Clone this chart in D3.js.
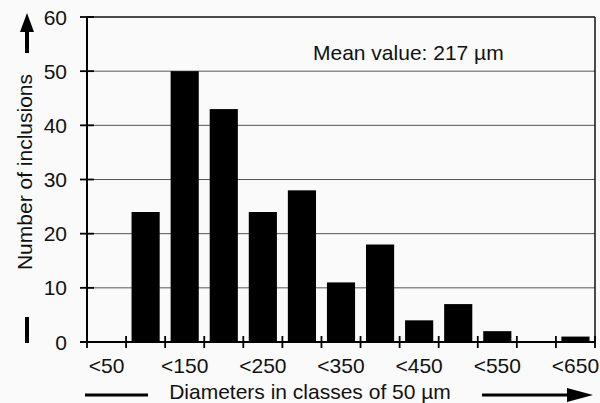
<!DOCTYPE html>
<html>
<head>
<meta charset="utf-8">
<script src="https://cdn.jsdelivr.net/npm/d3@7"></script>
<style>
  body { margin: 0; background: #fafafa; }
  svg { display: block; font-family: Arial, "Liberation Sans", sans-serif; }
  .grid line { stroke: #555; stroke-width: 1; }
</style>
</head>
<body>
<svg id="chart" width="600" height="403"></svg>
<script>
// classes of 50 um
var classes = ["<50", "<100", "<150", "<200", "<250", "<300", "<350",
               "<400", "<450", "<500", "<550", "<600", "<650"];
var counts = [0, 24, 50, 43, 24, 28, 11, 18, 4, 7, 2, 0, 1];
var labelled = ["<50", "<150", "<250", "<350", "<450", "<550", "<650"];
var yTicks = [0, 10, 20, 30, 40, 50, 60];

var svg = d3.select("svg#chart"),
    margin = {top: 17, right: 5, bottom: 61, left: 87},
    width = +svg.attr("width") - margin.left - margin.right,
    height = +svg.attr("height") - margin.top - margin.bottom;

var fs = 21;
var pad = 0.28;
var x = d3.scaleBand().domain(classes).range([0, width])
    .paddingInner(pad).paddingOuter(pad / 2);
var y = d3.scaleLinear().domain([0, 60]).range([height, 0]);

var g = svg.append("g")
    .attr("transform", "translate(" + margin.left + "," + margin.top + ")");

// gridlines
g.append("g").attr("class", "grid")
  .selectAll("line")
  .data(yTicks.filter(function(d) { return d > 0 && d < 60; }))
  .enter().append("line")
    .attr("x1", 0).attr("x2", width)
    .attr("y1", function(d) { return y(d); })
    .attr("y2", function(d) { return y(d); });

// bars
g.selectAll("rect.bar")
  .data(counts)
  .enter().append("rect")
    .attr("class", "bar")
    .attr("x", function(d, i) { return x(classes[i]); })
    .attr("width", x.bandwidth())
    .attr("y", function(d) { return y(d); })
    .attr("height", function(d) { return height - y(d); })
    .attr("fill", "#000");

// frame top + right
g.append("line").attr("x1", 0).attr("x2", width).attr("y1", 0).attr("y2", 0)
  .attr("stroke", "#111").attr("stroke-width", 1.5);
g.append("line").attr("x1", width).attr("x2", width).attr("y1", 0).attr("y2", height)
  .attr("stroke", "#111").attr("stroke-width", 1.5);

// y axis
g.append("line").attr("x1", 0).attr("x2", 0).attr("y1", 0).attr("y2", height)
  .attr("stroke", "#000").attr("stroke-width", 2);
g.selectAll("line.ytick")
  .data(yTicks)
  .enter().append("line")
    .attr("class", "ytick")
    .attr("x1", -7).attr("x2", 7)
    .attr("y1", function(d) { return y(d); })
    .attr("y2", function(d) { return y(d); })
    .attr("stroke", "#000").attr("stroke-width", 1.8);
g.selectAll("text.ylab")
  .data(yTicks)
  .enter().append("text")
    .attr("class", "ylab")
    .attr("x", -20)
    .attr("y", function(d) { return y(d); })
    .attr("dy", "0.36em")
    .attr("text-anchor", "end")
    .attr("font-size", fs)
    .attr("fill", "#111")
    .text(function(d) { return d; });

// x axis
g.append("line").attr("x1", -7).attr("x2", width).attr("y1", height).attr("y2", height)
  .attr("stroke", "#000").attr("stroke-width", 2);
var step = x.step();
var bounds = d3.range(classes.length + 1).map(function(i) {
  return x(classes[0]) - step * pad / 2 + i * step;
});
g.selectAll("line.xtick")
  .data(bounds)
  .enter().append("line")
    .attr("class", "xtick")
    .attr("x1", function(d) { return d; })
    .attr("x2", function(d) { return d; })
    .attr("y1", height - 6).attr("y2", height + 6)
    .attr("stroke", "#000").attr("stroke-width", 1.8);
g.selectAll("text.xlab")
  .data(labelled)
  .enter().append("text")
    .attr("class", "xlab")
    .attr("x", function(d) { return x(d) + x.bandwidth() / 2; })
    .attr("y", height + 31)
    .attr("text-anchor", "middle")
    .attr("font-size", fs)
    .attr("fill", "#111")
    .text(function(d) { return d; });

// annotation
g.append("text")
  .attr("x", 226).attr("y", 43)
  .attr("font-size", fs)
  .attr("fill", "#111")
  .text("Mean value: 217 \u00b5m");

// y title with arrow
svg.append("text")
  .attr("transform", "translate(32,172) rotate(-90)")
  .attr("text-anchor", "middle")
  .attr("font-size", fs)
  .attr("fill", "#111")
  .text("Number of inclusions");
svg.append("line").attr("x1", 27).attr("x2", 27).attr("y1", 53).attr("y2", 30)
  .attr("stroke", "#000").attr("stroke-width", 4);
svg.append("path").attr("d", "M20,32 L27,13 L34,32 Z").attr("fill", "#000");
svg.append("line").attr("x1", 27).attr("x2", 27).attr("y1", 317).attr("y2", 343)
  .attr("stroke", "#000").attr("stroke-width", 4);

// x title with arrow
svg.append("text")
  .attr("x", 310).attr("y", 399)
  .attr("text-anchor", "middle")
  .attr("font-size", fs)
  .attr("fill", "#111")
  .text("Diameters in classes of 50 \u00b5m");
svg.append("line").attr("x1", 85).attr("x2", 148).attr("y1", 395).attr("y2", 395)
  .attr("stroke", "#000").attr("stroke-width", 3);
svg.append("line").attr("x1", 482).attr("x2", 572).attr("y1", 395).attr("y2", 395)
  .attr("stroke", "#000").attr("stroke-width", 3);
svg.append("path").attr("d", "M567,388 L593,395 L567,402 Z").attr("fill", "#000");
</script>
</body>
</html>
